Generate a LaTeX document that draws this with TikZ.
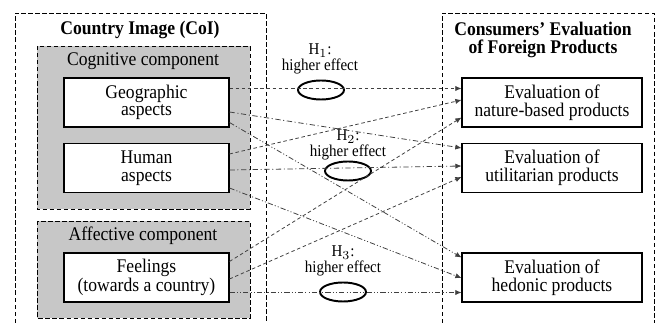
\documentclass[tikz,border=0pt]{standalone}
\usepackage{fontspec}
\setmainfont{Liberation Serif}[FakeStretch=0.91]
\usetikzlibrary{shapes.geometric,arrows.meta,calc}

\begin{document}
\begin{tikzpicture}[x=0.02cm,y=-0.02cm,
  every node/.style={font=\fontsize{11}{10}\selectfont, align=center, inner sep=0pt},
  item/.style={draw, fill=white, line width=0.6pt, minimum width=3.3cm, minimum height=0.98cm},
  target/.style={item, minimum width=3.6cm},
  panel/.style={draw, dash pattern=on 2.5pt off 1.5pt, fill=black!22, line width=0.5pt},
  frame/.style={dash pattern=on 2.5pt off 1.5pt, line width=0.5pt},
  title/.style={font=\bfseries\fontsize{11}{10.3}\selectfont},
  hyp/.style={font=\fontsize{9.4}{6.6}\selectfont},
  oval/.style={draw, ellipse, line width=1.1pt, minimum width=0.92cm, minimum height=0.38cm},
  link/.style={-{Latex[length=3.5pt,width=3pt]}, line width=0.45pt, black!75},
  dsh/.style={link, dash pattern=on 2pt off 1.5pt},
  dd/.style={link, dash pattern=on 3pt off 1.5pt on 0.6pt off 1.5pt},
  ddd/.style={link, dash pattern=on 3pt off 1.2pt on 0.6pt off 1.2pt on 0.6pt off 1.2pt}]

\useasboundingbox (0,0) rectangle (657,323);

% frames and panels
\draw[frame] (15,323) -- (15,13) -- (266,13) -- (266,323);
\draw[frame] (442,323) -- (442,13) -- (654,13) -- (654,323);
\draw[panel] (37,46) rectangle (250,209);
\draw[panel] (37,221) rectangle (250,318);

\node[title] (coi) at (140,30) {Country Image (CoI)};
\node[title] (cef) at (543,40) {Consumers' Evaluation\\of Foreign Products};
\node (cog) at (143,61) {Cognitive component};
\node (aff) at (143,236) {Affective component};

% country image items
\node[item] (geo) at (146.5,102.5) {Geographic\\aspects};
\node[item] (hum) at (146.5,168) {Human\\aspects};
\node[item] (fee) at (146.5,277.5) {Feelings\\(towards a country)};

% evaluations
\node[target] (nat) at (552,102.5) {Evaluation of\\nature-based products};
\node[target] (uti) at (552,168) {Evaluation of\\utilitarian products};
\node[target] (hed) at (552,277.5) {Evaluation of\\hedonic products};

% hypotheses
\node[hyp] (h1) at (320,59) {H$_1$:\\higher effect};
\node[hyp] (h2) at (348,145) {H$_2$:\\higher effect};
\node[hyp] (h3) at (343,261) {H$_3$:\\higher effect};
\node[oval] (o1) at (321,90) {};
\node[oval] (o2) at (348,171) {};
\node[oval] (o3) at (343,292) {};

% effects
\draw[dsh] ($(geo.north east)!0.22!(geo.south east)$) -- ($(nat.north west)!0.22!(nat.south west)$);
\draw[dd]  ($(geo.north east)!0.69!(geo.south east)$) -- ($(uti.north west)!0.10!(uti.south west)$);
\draw[ddd] ($(geo.north east)!0.90!(geo.south east)$) -- ($(hed.north west)!0.10!(hed.south west)$);
\draw[dsh] ($(hum.north east)!0.22!(hum.south east)$) -- ($(nat.north west)!0.45!(nat.south west)$);
\draw[dd]  ($(hum.north east)!0.54!(hum.south east)$) -- ($(uti.north west)!0.46!(uti.south west)$);
\draw[ddd] ($(hum.north east)!0.90!(hum.south east)$) -- ($(hed.north west)!0.51!(hed.south west)$);
\draw[dsh] ($(fee.north east)!0.18!(fee.south east)$) -- ($(nat.north west)!0.80!(nat.south west)$);
\draw[dsh] ($(fee.north east)!0.53!(fee.south east)$) -- ($(uti.north west)!0.68!(uti.south west)$);
\draw[ddd] ($(fee.north east)!0.80!(fee.south east)$) -- ($(hed.north west)!0.80!(hed.south west)$);
\end{tikzpicture}
\end{document}
